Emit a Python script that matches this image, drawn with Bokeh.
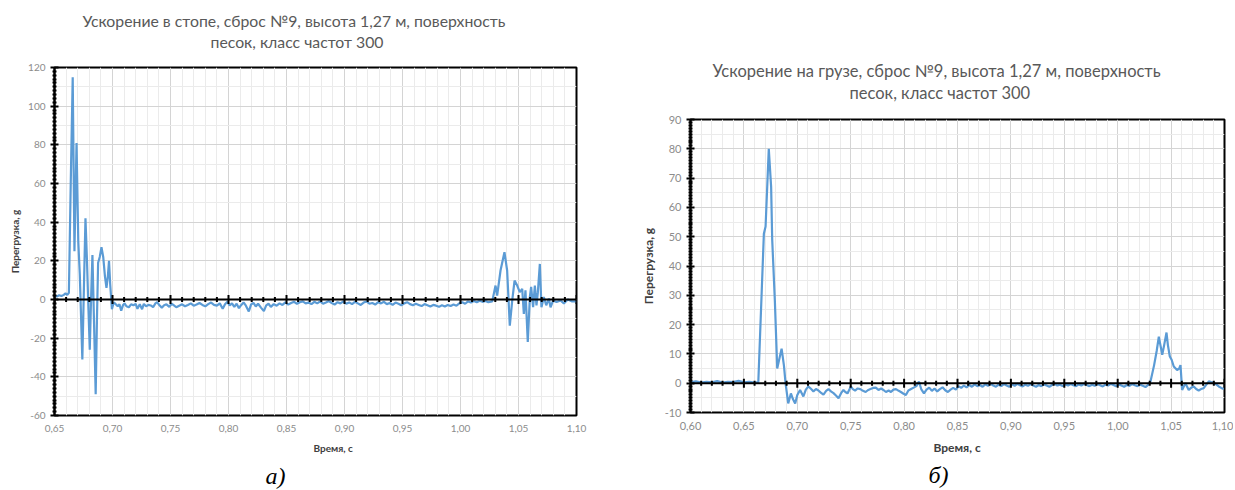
import numpy as np
from bokeh.plotting import figure
from bokeh.layouts import row, column
from bokeh.models import Range1d, FixedTicker, CustomJSTickFormatter, Span, Title, Spacer
from bokeh.embed import file_html
from bokeh.resources import INLINE

# ---------------- data: chart a) (acceleration in the foot) ----------------
t_foot = [0.650, 0.652, 0.654, 0.656, 0.658, 0.6595, 0.6610, 0.6624, 0.6640, 0.6657,
          0.6672, 0.6690, 0.6705, 0.6718, 0.6740, 0.6755, 0.6767, 0.6780, 0.6790, 0.6804,
          0.6815, 0.6827, 0.6840, 0.6855, 0.6866, 0.6876, 0.6890, 0.6905, 0.6920, 0.6935,
          0.6948, 0.6960, 0.6970, 0.6980, 0.6995,
          0.7010, 0.7026, 0.7045, 0.7060, 0.7075, 0.7090, 0.7104, 0.7120, 0.7141, 0.7160,
          0.7180, 0.7200, 0.7215, 0.7235, 0.7255, 0.7270, 0.7290, 0.7310, 0.7330, 0.7350,
          0.7370, 0.7385, 0.7405, 0.7425, 0.7445, 0.7465, 0.7490, 0.7510, 0.7530, 0.7550,
          0.7575, 0.7600, 0.7625, 0.7650, 0.7675, 0.7700, 0.7725, 0.7750, 0.7775, 0.7800,
          0.7825, 0.7850, 0.7875, 0.7900, 0.7925, 0.7950, 0.7970, 0.7990, 0.8010, 0.8030,
          0.8050, 0.8070, 0.8090, 0.8110, 0.8130, 0.8150, 0.8175, 0.8195, 0.8215, 0.8235,
          0.8255, 0.8280, 0.8305, 0.8325, 0.8345, 0.8365, 0.8390, 0.8415, 0.8440, 0.8465,
          0.8490, 0.8515, 0.8540, 0.8565, 0.8590, 0.8615, 0.8640, 0.8665, 0.8690, 0.8715,
          0.8740, 0.8765, 0.8790, 0.8815, 0.8840, 0.8865, 0.8890, 0.8915, 0.8940, 0.8965,
          0.8990, 0.9015, 0.9040, 0.9065, 0.9090, 0.9115, 0.9140, 0.9165, 0.9190, 0.9215,
          0.9240, 0.9265, 0.9290, 0.9315, 0.9340, 0.9365, 0.9390, 0.9415, 0.9440, 0.9465,
          0.9490, 0.9515, 0.9540, 0.9565, 0.9590, 0.9615, 0.9640, 0.9665, 0.9690, 0.9715,
          0.9740, 0.9765, 0.9790, 0.9815, 0.9840, 0.9865, 0.9890, 0.9915, 0.9940, 0.9965,
          0.9990, 1.0015, 1.0040, 1.0065, 1.0090, 1.0115, 1.0140, 1.0165, 1.0190, 1.0215,
          1.0240, 1.0273,
          1.0287, 1.0302, 1.0316, 1.0345, 1.0379, 1.0402, 1.0425, 1.0446, 1.0466, 1.0489,
          1.0511, 1.0532, 1.0546, 1.0560, 1.0580, 1.0598, 1.0609, 1.0626, 1.0641, 1.0655,
          1.0667, 1.0684, 1.0698, 1.0718, 1.0739, 1.0762, 1.0776, 1.0799, 1.0828, 1.0862,
          1.0891, 1.0925, 1.0963, 1.1000]
g_foot = [2.0, 1.6, 2.2, 1.8, 2.4, 3.2, 2.4, 3.5, 60, 115,
          25, 81, 30, 13, -31, 10, 42, 20, 0, -26,
          0, 23, -10, -49, -10, 19, 22, 27, 22, 12,
          6, 12, 20, 8, -5,
          -1.5, -2.3, -3.5, -2.5, -5.8, -3.0, -2.0, -3.5, -4.0, -2.5,
          -3.0, -2.3, -4.8, -2.5, -5.0, -2.3, -3.5, -2.8, -3.1, -4.0,
          -2.0, -1.4, -3.0, -4.2, -3.0, -2.5, -3.8, -2.2, -3.0, -4.0,
          -3.2, -2.5, -3.5, -2.8, -2.0, -3.2, -2.6, -1.8, -2.8, -3.5,
          -2.4, -1.6, -2.8, -3.2, -2.0, -4.8, -2.5, -1.2, -3.0, -2.0,
          -3.8, -2.2, -4.5, -2.8, -1.5, -3.2, -6.2, -2.5, -1.8, -3.6,
          -2.2, -4.2, -6.0, -3.0, -2.2, -3.8, -2.4, -3.2, -2.0, -2.8,
          -1.5, -2.6, -1.8, -1.2, -2.2, -1.4, -1.0, -2.0, -1.6, -2.4,
          -1.2, -2.0, -1.0, -2.2, -1.6, -0.8, -1.8, -2.6, -1.4, -2.0,
          -1.0, -2.2, -1.5, -2.4, -1.2, -2.0, -2.8, -1.6, -1.0, -2.2,
          -1.8, -2.6, -1.4, -2.0, -1.2, -2.4, -1.8, -2.8, -1.6, -2.2,
          -3.0, -2.0, -1.4, -2.4, -3.0, -2.2, -2.8, -3.4, -2.4, -3.0,
          -3.6, -2.8, -3.2, -3.8, -3.0, -3.6, -2.8, -3.4, -2.6, -3.2,
          -2.0, -1.4, -2.2, -1.0, -1.6, -0.8, -1.4, -0.6, -1.2, -0.8,
          -1.4, -1.0,
          2.9, 7.2, 2.0, 15, 24.5, 15, -13.5, -0.5, 9.8, 7.2,
          3.8, 5.5, -7.4, 4.7, -22, 1.3, 6.5, -4, 7.2, -3,
          3.8, 18.4, -4, 1.3, -3, 0.5, -4, -0.5, -1.3, -0.5,
          -2, 0, -1, -1]

# ---------------- data: chart б) (acceleration on the load) ----------------
t_load = [0.600, 0.605, 0.610, 0.615, 0.620, 0.625, 0.630, 0.635, 0.640, 0.645,
          0.650, 0.655, 0.660, 0.6635, 0.6687, 0.6703, 0.6733, 0.6755, 0.6765, 0.6790,
          0.6812, 0.6853, 0.6875, 0.6890, 0.6915, 0.6940, 0.6960, 0.6980, 0.7000, 0.7026,
          0.7057, 0.7080, 0.7104, 0.7130, 0.7151, 0.7175, 0.7198, 0.7220, 0.7245, 0.7270,
          0.7292, 0.7315, 0.7339, 0.7362, 0.7386, 0.7410, 0.7432, 0.7450, 0.7470, 0.7490,
          0.7501, 0.7520, 0.7541, 0.7565, 0.7590, 0.7615, 0.7640, 0.7660, 0.7685, 0.7710,
          0.7735, 0.7760, 0.7785, 0.7810, 0.7830, 0.7855, 0.7877, 0.7900, 0.7924, 0.7950,
          0.7970, 0.7995, 0.8017, 0.8040, 0.8065, 0.8090, 0.8115, 0.8139, 0.8160, 0.8186,
          0.8210, 0.8235, 0.8260, 0.8285, 0.8310, 0.8335, 0.8360, 0.8385, 0.8410, 0.8435,
          0.8460, 0.8485, 0.8510, 0.8535, 0.8560, 0.8585, 0.8610, 0.8635, 0.8660, 0.8685,
          0.8710, 0.8735, 0.8760, 0.8785, 0.8810, 0.8835, 0.8860, 0.8885, 0.8910, 0.8935,
          0.8960, 0.8985, 0.9010, 0.9035, 0.9060, 0.9085, 0.9110, 0.9135, 0.9160, 0.9185,
          0.9210, 0.9235, 0.9260, 0.9285, 0.9310, 0.9335, 0.9360, 0.9385, 0.9410, 0.9435,
          0.9460, 0.9485, 0.9510, 0.9535, 0.9560, 0.9585, 0.9610, 0.9635, 0.9660, 0.9685,
          0.9710, 0.9735, 0.9760, 0.9785, 0.9810, 0.9835, 0.9860, 0.9885, 0.9910, 0.9935,
          0.9960, 0.9985, 1.0010, 1.0035, 1.0060, 1.0085, 1.0110, 1.0135, 1.0160, 1.0185,
          1.0210, 1.0235, 1.0260, 1.0285, 1.0307, 1.0340, 1.0365, 1.0385, 1.0400, 1.0417,
          1.0435, 1.0457, 1.0470, 1.0488, 1.0505, 1.0525, 1.0556, 1.0575, 1.0588, 1.0603,
          1.0634, 1.0665, 1.0690, 1.0712, 1.0735, 1.0758, 1.0780, 1.0805, 1.0830, 1.0853,
          1.0875, 1.0900, 1.0925, 1.0946, 1.0970, 1.0993]
g_load = [0.3, 0.6, 0.2, 0.5, 0.3, 0.7, 0.2, 0.5, 0.4, 0.8,
          0.3, 0.5, 0.2, 0.4, 51, 53.5, 80, 67, 49, 28,
          5, 11.8, 6, 0, -6.9, -3.5, -5.5, -6.9, -4, -2.3,
          -4.5, -2.2, -1.1, -2.0, -2.8, -2.0, -2.5, -3.2, -3.9, -2.6,
          -2.0, -2.8, -3.4, -4.2, -5.1, -3.4, -2.3, -3.0, -3.5, -2.0,
          -1.1, -2.0, -2.5, -1.8, -2.0, -2.6, -3.0, -2.4, -2.0, -1.6,
          -1.5, -2.3, -1.8, -2.4, -3.0, -2.5, -3.0, -2.2, -2.0, -2.6,
          -3.0, -3.6, -4.0, -2.5, -2.0, -1.5, -1.0, 0.6, -2.0, -3.5,
          -2.2, -1.5, -2.6, -1.8, -2.8, -2.0, -1.4, -2.4, -3.0, -2.2,
          -1.6, -2.2, -1.0, -1.6, -0.8, -1.4, -0.6, -1.2, -0.4, -1.0,
          -0.6, -1.2, -0.4, -0.9, -0.2, -0.8, -1.2, -0.5, -1.0, -0.3,
          -0.8, -1.2, -0.4, -0.9, -0.2, -0.7, -1.1, -0.5, -0.9, -0.3,
          -0.8, -1.2, -0.6, -1.0, -0.4, -0.8, -1.2, -0.6, -0.2, -0.8,
          -0.5, -1.0, -0.4, -0.8, -0.3, -0.7, -1.0, -0.4, -0.8, -0.2,
          -0.6, -1.0, -0.5, -0.9, -0.3, -0.7, -1.1, -0.5, -0.8, -0.2,
          -0.6, -1.0, -0.4, -0.8, -1.2, -0.6, -0.9, -0.3, -0.7, -1.0,
          -0.5, -0.9, -1.3, -0.6, 0.6, 6, 11, 15.9, 13, 9.7,
          13, 17.3, 13, 9.1, 8, 5.7, 4.5, 5.0, 6.2, -2.3,
          0, -2.3, -1.5, -1.1, -2.0, -2.5, -2.0, -1.7, -0.5, 0.6,
          0.4, 0.2, -0.5, -1.1, -1.6, -2.0]

# ---------------- axes / tick definitions ----------------
x1_ticks = [0.65, 0.70, 0.75, 0.80, 0.85, 0.90, 0.95, 1.00, 1.05, 1.10]
y1_ticks = [-60, -40, -20, 0, 20, 40, 60, 80, 100, 120]
x2_ticks = [0.60, 0.65, 0.70, 0.75, 0.80, 0.85, 0.90, 0.95, 1.00, 1.05, 1.10]
y2_ticks = [-10, 0, 10, 20, 30, 40, 50, 60, 70, 80, 90]

title1 = ["Ускорение в стопе, сброс №9, высота 1,27 м, поверхность", "песок, класс частот 300"]
title2 = ["Ускорение на грузе, сброс №9, высота 1,27 м, поверхность", "песок, класс частот 300"]
xlabel = "Время, с"
ylabel = "Перегрузка, g"
captions = ["а)", "б)"]

FONT = "Lato"
BLUE = "#5b9bd5"


def minor_list(ticks, n):
    out = []
    for a, b in zip(ticks[:-1], ticks[1:]):
        step = (b - a) / n
        out += [round(a + k * step, 6) for k in range(1, n)]
    return out


def make_chart(width, height, borders, xr, yr, xt, yt, tick_font, t, g,
               titles, title_size, title_offsets, gap_standoff,
               ylab_standoff, lab_size, xlab_offset, xlab_standoff,
               cap, cap_offset, cap_standoff):
    bl, br, bt, bb = borders
    p = figure(width=width, height=height, output_backend="svg", toolbar_location=None,
               x_range=Range1d(*xr), y_range=Range1d(*yr),
               min_border_left=bl, min_border_right=br, min_border_top=bt,
               min_border_bottom=bb)
    p.background_fill_color = "white"
    p.border_fill_color = "white"
    p.outline_line_color = "black"
    p.outline_line_width = 2

    xminor = minor_list(xt, 5)
    p.xaxis.ticker = FixedTicker(ticks=xt, minor_ticks=xminor)
    p.xaxis.formatter = CustomJSTickFormatter(code="return tick.toFixed(2).replace('.', ',');")
    p.xaxis.axis_line_color = None
    p.xaxis.major_tick_line_color = None
    p.xaxis.minor_tick_line_color = None
    p.xaxis.major_tick_out = 0
    p.xaxis.minor_tick_out = 0
    p.xaxis.major_label_standoff = 9
    p.xaxis.major_label_text_font = FONT
    p.xaxis.major_label_text_font_size = tick_font
    p.xaxis.major_label_text_color = "#8c8c8c"

    p.yaxis.ticker = FixedTicker(ticks=yt, minor_ticks=minor_list(yt, 10))
    p.yaxis.formatter = CustomJSTickFormatter(code="return tick.toFixed(0);")
    p.yaxis.axis_line_color = "black"
    p.yaxis.axis_line_width = 2
    p.yaxis.major_tick_in = 4
    p.yaxis.major_tick_out = 4
    p.yaxis.minor_tick_in = 2
    p.yaxis.minor_tick_out = 2
    p.yaxis.major_tick_line_width = 2
    p.yaxis.minor_tick_line_width = 2
    p.yaxis.major_tick_line_color = "black"
    p.yaxis.minor_tick_line_color = "black"
    p.yaxis.major_label_standoff = 5
    p.yaxis.major_label_text_font = FONT
    p.yaxis.major_label_text_font_size = tick_font
    p.yaxis.major_label_text_color = "#8c8c8c"
    p.yaxis.axis_label = ylabel
    p.yaxis.axis_label_text_font = FONT
    p.yaxis.axis_label_text_font_style = "bold"
    p.yaxis.axis_label_text_font_size = lab_size
    p.yaxis.axis_label_text_color = "#404040"
    p.yaxis.axis_label_standoff = ylab_standoff

    p.xgrid.ticker = FixedTicker(ticks=xt, minor_ticks=xminor)
    p.xgrid.grid_line_color = "#d4d4d4"
    p.xgrid.minor_grid_line_color = "#ebebeb"
    p.ygrid.ticker = FixedTicker(ticks=yt, minor_ticks=minor_list(yt, 2))
    p.ygrid.grid_line_color = "#d4d4d4"
    p.ygrid.minor_grid_line_color = "#ebebeb"

    p.line(t, g, line_color=BLUE, line_width=2.2)

    # horizontal axis crossing at zero, with crossing tick marks
    p.add_layout(Span(location=0, dimension="width", line_color="black", line_width=2))
    p.rect(x=xminor, y=[0] * len(xminor), width=2, height=5,
           width_units="screen", height_units="screen",
           fill_color="black", line_color=None)
    p.rect(x=xt, y=[0] * len(xt), width=2, height=9,
           width_units="screen", height_units="screen",
           fill_color="black", line_color=None)

    # empty gap panel between frame and title, then line 2, then line 1
    p.add_layout(Title(text=" ", standoff=gap_standoff, text_font_size="1px"), "above")
    for idx in (1, 0):
        p.add_layout(Title(text=titles[idx], align="left", offset=title_offsets[idx],
                           standoff=0, text_font=FONT,
                           text_font_size=title_size, text_font_style="normal",
                           text_color="#595959"), "above")
    p.add_layout(Title(text=xlabel, align="left", offset=xlab_offset, standoff=xlab_standoff,
                       text_font=FONT, text_font_size=lab_size, text_font_style="bold",
                       text_color="#404040"), "below")
    p.add_layout(Title(text=cap, align="left", offset=cap_offset, standoff=cap_standoff,
                       text_font="Liberation Serif", text_font_size="24px",
                       text_font_style="italic", text_color="black"), "below")
    return p


p1 = make_chart(620, 490, (54, 44, 67, 75), (0.65, 1.10), (-60, 120), x1_ticks, y1_ticks,
                "10px", t_foot, g_foot,
                title1, "15.8px", (28, 156), 13.5,
                4, "10px", 259, 10, captions[0], 211, 4)
p2 = make_chart(613, 438, (70, 9, 67, 78), (0.60, 1.10), (-10, 90), x2_ticks, y2_ticks,
                "11px", t_load, g_load,
                title2, "16.5px", (22, 159), 14,
                6, "12px", 243, 10, captions[1], 238, 0)

layout = row(p1, column(Spacer(width=613, height=52), p2))
open("out.html", "w").write(file_html(layout, INLINE))
